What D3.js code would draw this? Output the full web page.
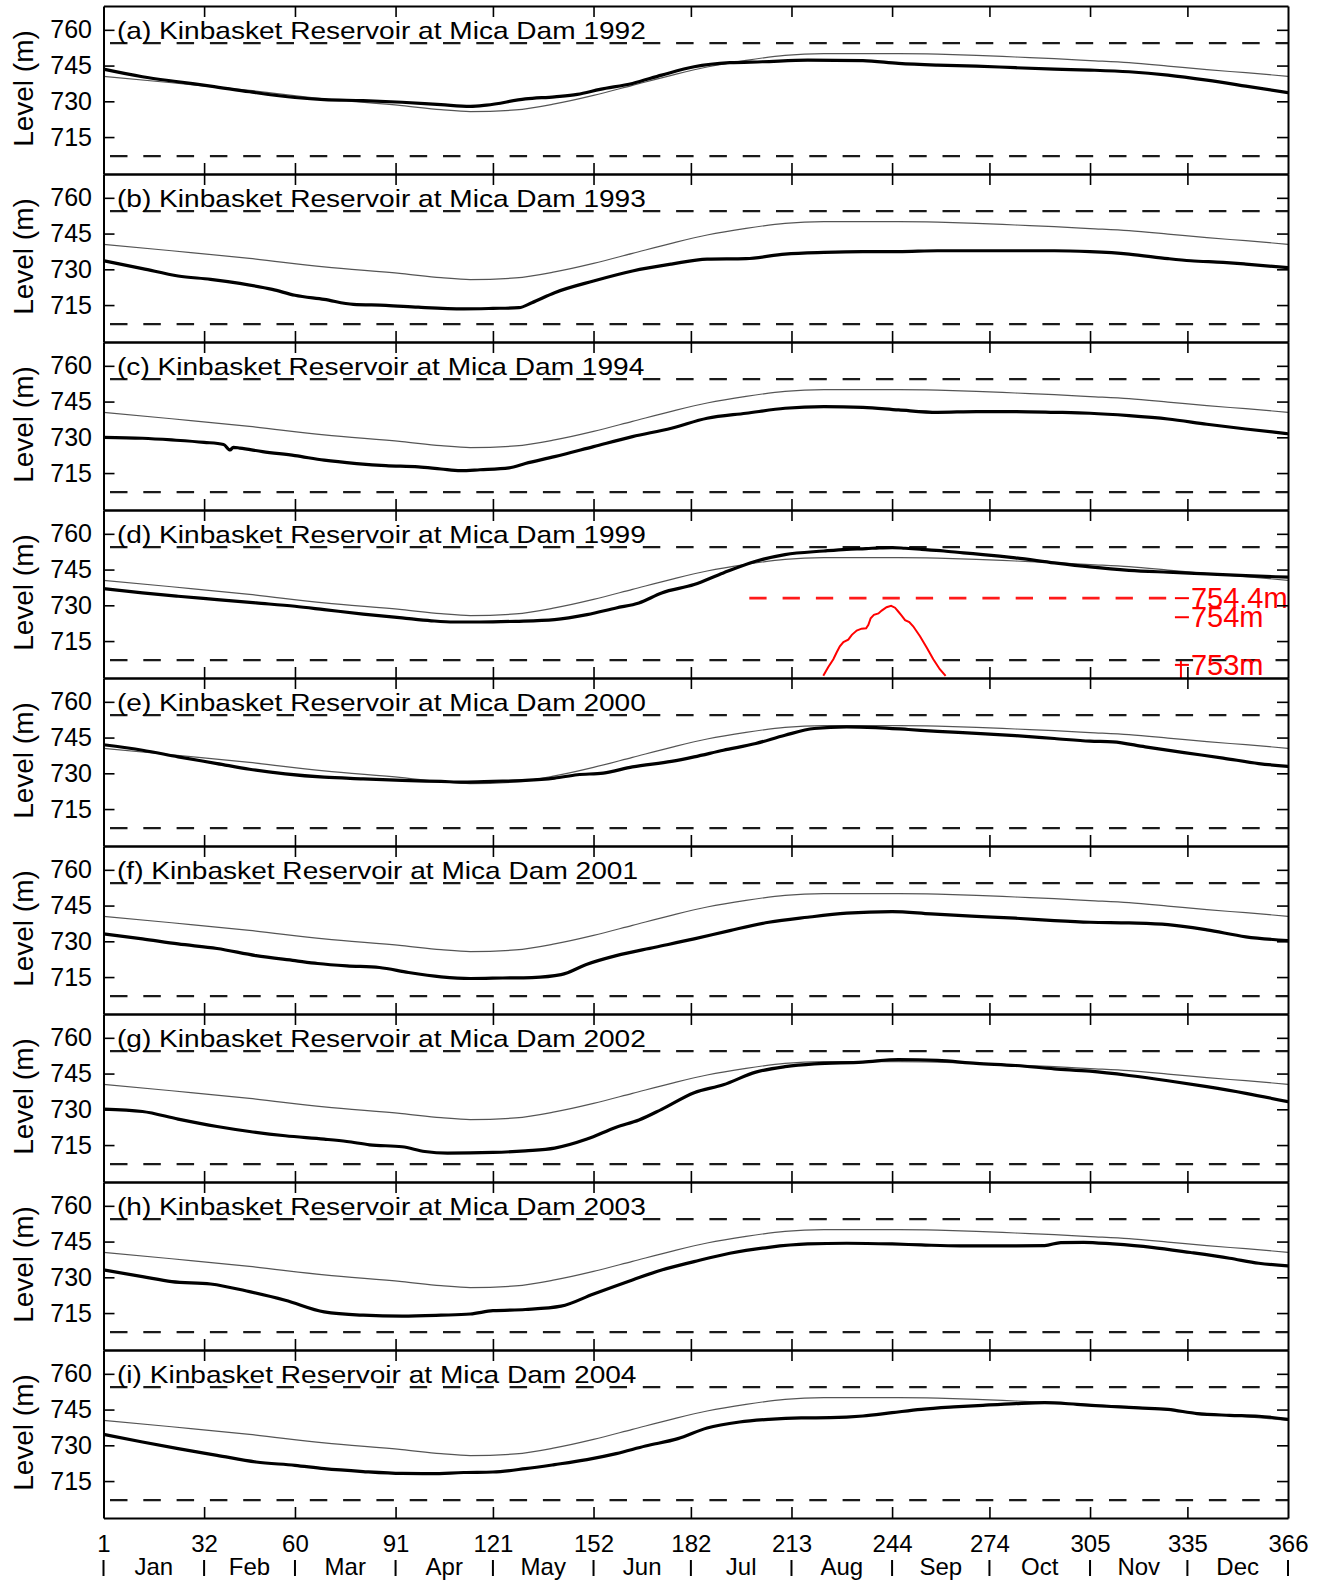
<!DOCTYPE html>
<html>
<head>
<meta charset="utf-8">
<script src="https://cdn.jsdelivr.net/npm/d3@7"></script>
<style>
  html, body { margin: 0; padding: 0; background: #fff; }
  svg { display: block; font-family: "Liberation Sans", Arial, Helvetica, sans-serif; }
</style>
</head>
<body>
<svg id="chart" width="1325" height="1583"></svg>
<script>
// ---- data -------------------------------------------------------------
const panelLetters = ["a", "b", "c", "d", "e", "f", "g", "h", "i"];
const panelYears = [1992, 1993, 1994, 1999, 2000, 2001, 2002, 2003, 2004];
const dayTicks = [1, 32, 60, 91, 121, 152, 182, 213, 244, 274, 305, 335, 366];
const monthNames = ["Jan", "Feb", "Mar", "Apr", "May", "Jun", "Jul", "Aug", "Sep", "Oct", "Nov", "Dec"];
const levelTicks = [715, 730, 745, 760];
const levelDomain = [699.5, 770];
const fullPoolLevel = 754.4;   // normal maximum operating level
const minPoolLevel = 707.0;    // normal minimum operating level

// reference (rule) curve, same for every year: [day of year, level m]
const ruleCurve = [[1,740.5],[22,737.8],[46,734.6],[69,731.0],[93,728.2],[105,726.5],[114,725.7],[128,726.4],[140,728.9],[152,732.5],[164,736.7],[176,740.9],[187,744.4],[199,747.2],[211,749.3],[223,750.0],[235,750.0],[246,750.0],[258,749.8],[270,749.3],[282,748.6],[294,747.9],[305,747.1],[317,746.2],[329,744.8],[341,743.3],[353,742.0],[366,740.5]];

// observed reservoir level: [day of year, level m]
const level1992 = [[1,743.5],[13,740.3],[24,738.2],[34,736.4],[46,734.0],[60,731.6],[69,730.7],[81,730.3],[93,729.6],[105,728.6],[114,727.9],[119,728.4],[131,731.0],[140,731.9],[147,732.9],[154,735.0],[164,737.5],[173,741.0],[183,744.5],[194,746.2],[204,746.6],[218,747.3],[235,747.1],[246,745.9],[258,745.2],[270,744.8],[282,744.1],[294,743.5],[305,743.1],[317,742.4],[329,741.0],[341,738.9],[353,736.4],[366,733.6]];
const level1993 = [[1,733.6],[13,730.3],[24,727.2],[34,725.8],[43,724.1],[53,721.6],[60,719.1],[69,717.4],[78,715.3],[88,714.9],[98,714.1],[112,713.4],[121,713.6],[129,713.9],[133,716.0],[140,720.2],[152,725.1],[164,729.3],[176,732.2],[187,734.3],[199,734.5],[211,736.4],[223,737.1],[235,737.4],[246,737.4],[258,737.8],[270,737.8],[282,737.8],[294,737.8],[305,737.4],[317,736.4],[329,734.5],[336,733.6],[346,732.9],[353,732.2],[366,730.7]];
const level1994 = [[1,730.0],[13,729.6],[22,728.9],[32,727.9],[38,727.0],[40,724.7],[41,725.8],[43,725.5],[50,724.0],[60,722.3],[69,720.4],[79,719.0],[88,718.1],[98,717.6],[105,716.7],[111,716.0],[117,716.4],[126,717.2],[131,719.0],[140,721.9],[152,726.1],[164,730.3],[176,733.8],[187,738.0],[199,740.1],[211,742.2],[223,742.9],[235,742.6],[246,741.5],[258,740.5],[270,740.8],[282,740.8],[294,740.5],[305,740.1],[317,739.1],[329,737.7],[341,735.5],[353,733.5],[366,731.5]];
const level1999 = [[1,737.0],[13,735.2],[24,733.8],[36,732.4],[48,731.0],[60,729.6],[69,728.2],[81,726.3],[93,724.7],[102,723.5],[109,723.0],[117,723.0],[128,723.3],[140,724.0],[150,726.1],[159,728.9],[166,731.0],[173,735.2],[183,738.7],[192,743.6],[202,748.5],[211,751.3],[223,752.8],[230,753.5],[236,753.8],[240,754.1],[244,754.24],[248,753.95],[253,753.5],[260,752.8],[266,752.0],[272,751.3],[282,749.9],[294,747.8],[305,746.1],[317,744.7],[329,743.9],[341,743.2],[353,742.5],[366,741.8]];
const level2000 = [[1,742.0],[13,739.7],[24,736.9],[36,734.1],[46,731.7],[57,729.8],[69,728.4],[81,727.7],[93,727.0],[105,726.6],[112,726.3],[121,726.6],[131,727.0],[140,728.0],[147,729.4],[155,730.1],[164,732.7],[176,735.0],[183,736.9],[192,739.7],[202,742.5],[211,746.0],[220,748.8],[230,749.5],[239,749.2],[249,748.4],[258,747.6],[270,746.8],[282,745.8],[294,744.6],[305,743.5],[312,743.2],[322,741.1],[334,738.7],[346,736.4],[357,734.1],[366,732.9]];
const level2001 = [[1,733.1],[13,731.0],[24,728.9],[36,727.0],[48,724.0],[60,721.9],[67,720.7],[76,719.7],[86,719.0],[95,716.9],[105,715.1],[114,714.4],[124,714.6],[133,714.8],[142,716.0],[150,720.4],[159,724.0],[171,727.5],[183,731.0],[194,734.5],[206,738.0],[218,740.1],[230,741.8],[244,742.5],[256,741.5],[270,740.5],[282,739.7],[294,738.7],[305,738.0],[317,737.7],[329,737.0],[341,734.8],[353,731.9],[366,730.3]];
const level2002 = [[1,730.1],[13,729.1],[24,725.9],[36,722.8],[46,720.7],[57,718.9],[69,717.5],[76,716.5],[83,715.1],[93,714.3],[100,712.3],[107,711.6],[121,711.9],[131,712.6],[140,713.7],[150,717.5],[159,722.5],[166,725.5],[173,730.0],[183,737.0],[192,740.3],[202,745.6],[211,747.9],[220,749.1],[235,749.8],[246,750.9],[258,750.5],[270,749.3],[282,748.4],[294,747.0],[305,746.0],[317,744.2],[329,742.0],[341,739.5],[353,736.7],[366,733.2]];
const level2003 = [[1,733.1],[13,730.3],[22,728.2],[34,727.2],[46,724.0],[57,720.4],[69,715.5],[81,714.1],[93,713.7],[105,714.1],[114,714.6],[121,716.0],[131,716.5],[142,717.9],[152,723.0],[164,728.9],[173,733.1],[183,736.6],[194,740.1],[206,742.6],[218,744.0],[230,744.3],[244,744.0],[253,743.6],[265,743.2],[282,743.2],[291,743.3],[296,744.6],[303,744.7],[312,744.0],[324,742.6],[336,740.4],[348,738.0],[357,735.9],[366,734.8]];
const level2004 = [[1,734.6],[13,731.4],[24,728.6],[36,725.8],[48,723.0],[60,721.6],[69,720.2],[81,719.0],[93,718.2],[102,718.1],[112,718.6],[121,718.8],[131,720.2],[140,721.9],[150,724.0],[159,726.5],[168,729.7],[178,732.8],[187,737.3],[197,739.8],[206,740.9],[216,741.5],[225,741.6],[235,742.3],[244,743.7],[253,745.1],[263,746.1],[272,746.8],[282,747.5],[291,747.9],[301,747.2],[310,746.4],[320,745.7],[329,745.1],[338,743.3],[348,742.6],[357,742.2],[366,740.9]];
const observedLevels = [level1992, level1993, level1994, level1999, level2000, level2001, level2002, level2003, level2004];

// magnified view of the 1999 peak above 753 m: [day of year, level m]
const peak1999 = [[222.8,752.77],[224.3,752.95],[225.9,753.12],[226.9,753.26],[227.9,753.39],[229.0,753.48],[230.5,753.53],[231.6,753.63],[233.1,753.72],[234.6,753.76],[236.0,753.77],[236.7,753.84],[237.4,753.98],[238.4,754.05],[239.8,754.08],[240.8,754.14],[242.3,754.21],[243.7,754.24],[244.9,754.20],[245.9,754.12],[247.0,754.03],[248.0,753.94],[249.3,753.90],[250.5,753.81],[252.6,753.60],[254.7,753.36],[256.7,753.12],[258.7,752.91],[260.5,752.77]];
const peakTicks = [754.4, 754, 753];
const peakLabels = ["754.4m", "754m", "753m"];
const peakRefDays = [200, 331];

// ---- layout -----------------------------------------------------------
const plotLeft = 103.5, plotRight = 1288, firstTop = 6, panelH = 168;
const tickLen = 11;
const font = "'Liberation Sans', Arial, Helvetica, sans-serif";

const svg = d3.select("#chart");
const defs = svg.append("defs");
const x = d3.scaleLinear().domain([1, 366]).range([plotLeft, plotRight]);
const innerDays = dayTicks.slice(1, -1);

const line = (yScale) => d3.line()
  .x(d => x(d[0]))
  .y(d => yScale(d[1]))
  .curve(d3.curveMonotoneX);

function styleAxis(g) {
  g.attr("font-family", null).attr("font-size", null);
  g.selectAll(".tick line").attr("stroke", "#000").attr("stroke-width", 1.6);
  g.select(".domain").attr("stroke", "#000").attr("stroke-width", 2);
  g.selectAll("text").attr("fill", "#000").style("font-family", font);
}

panelYears.forEach((year, i) => {
  const top = firstTop + i * panelH;
  const bottom = top + panelH;
  const y = d3.scaleLinear().domain(levelDomain).range([bottom, top]);
  const g = svg.append("g").attr("class", "panel");

  defs.append("clipPath").attr("id", "clip" + i)
    .append("rect")
    .attr("x", plotLeft).attr("y", top)
    .attr("width", plotRight - plotLeft).attr("height", panelH);

  const plot = g.append("g").attr("clip-path", `url(#clip${i})`);

  // operating limits
  [fullPoolLevel, minPoolLevel].forEach(v => {
    plot.append("line")
      .attr("x1", plotLeft).attr("x2", plotRight)
      .attr("y1", y(v)).attr("y2", y(v))
      .attr("stroke", "#1a1a1a").attr("stroke-width", 2.4)
      .attr("stroke-dasharray", "17.5,15.8")
      .attr("stroke-dashoffset", 26.8);
  });

  // rule curve (thin) and observed level (thick)
  plot.append("path").datum(ruleCurve)
    .attr("d", line(y)).attr("fill", "none")
    .attr("stroke", "#555").attr("stroke-width", 1.2);
  plot.append("path").datum(observedLevels[i])
    .attr("d", line(y)).attr("fill", "none")
    .attr("stroke", "#000").attr("stroke-width", 3.2)
    .attr("stroke-linejoin", "round").attr("stroke-linecap", "round");

  // 1999: magnified peak drawn in red on a stretched level scale
  if (year === 1999) {
    const peakMap = d3.scaleLinear().domain([753, 754.4]).range([705, 733]);
    const yPeak = v => y(peakMap(v));
    plot.append("line")
      .attr("x1", x(peakRefDays[0])).attr("x2", x(peakRefDays[1]))
      .attr("y1", yPeak(peakTicks[0])).attr("y2", yPeak(peakTicks[0]))
      .attr("stroke", "#ff1a1a").attr("stroke-width", 2.6)
      .attr("stroke-dasharray", "17.3,16");
    plot.append("path").datum(peak1999)
      .attr("d", d3.line().x(d => x(d[0])).y(d => yPeak(d[1])))
      .attr("fill", "none").attr("stroke", "#ff0000").attr("stroke-width", 2);
    const tx0 = x(peakRefDays[1]) + 0.5, tx1 = tx0 + 14;
    peakTicks.forEach((v, k) => {
      g.append("line")
        .attr("x1", tx0).attr("x2", tx1)
        .attr("y1", yPeak(v)).attr("y2", yPeak(v))
        .attr("stroke", "#ff0000").attr("stroke-width", 2);
      g.append("text")
        .attr("x", tx1 + 2).attr("y", yPeak(v)).attr("dy", "0.35em")
        .attr("fill", "#ff0000").attr("font-size", 29)
        .style("font-family", font)
        .text(peakLabels[k]);
    });
    g.append("line")
      .attr("x1", tx0 + 6).attr("x2", tx0 + 6)
      .attr("y1", yPeak(753) - 4).attr("y2", bottom)
      .attr("stroke", "#ff0000").attr("stroke-width", 2);
  }

  // axes: inward ticks on all four sides
  const axTop = g.append("g").attr("transform", `translate(0,${top})`)
    .call(d3.axisTop(x).tickValues(innerDays).tickSizeInner(-tickLen).tickSizeOuter(0).tickFormat(""));
  styleAxis(axTop);

  const isLast = i === panelYears.length - 1;
  const axBottom = g.append("g").attr("transform", `translate(0,${bottom})`)
    .call(d3.axisBottom(x)
      .tickValues(isLast ? dayTicks : innerDays)
      .tickSizeInner(-tickLen).tickSizeOuter(0)
      .tickPadding(17)
      .tickFormat(isLast ? d3.format("d") : ""));
  styleAxis(axBottom);
  axBottom.selectAll("text").attr("font-size", 24);
  if (isLast) {
    axBottom.selectAll(".tick").filter(d => d === 1 || d === 366).select("line").remove();
  }

  const axLeft = g.append("g").attr("transform", `translate(${plotLeft},0)`)
    .call(d3.axisLeft(y).tickValues(levelTicks).tickSizeInner(-tickLen).tickSizeOuter(0).tickPadding(11.5));
  styleAxis(axLeft);
  axLeft.selectAll("text").attr("font-size", 25);

  const axRight = g.append("g").attr("transform", `translate(${plotRight},0)`)
    .call(d3.axisRight(y).tickValues(levelTicks).tickSizeInner(-tickLen).tickSizeOuter(0).tickFormat(""));
  styleAxis(axRight);

  // panel title
  g.append("text")
    .attr("transform", `translate(117,${top + 33}) scale(1.17,1)`)
    .attr("font-size", 24).attr("fill", "#000")
    .style("font-family", font)
    .text(`(${panelLetters[i]}) Kinbasket Reservoir at Mica Dam ${year}`);

  // y-axis title
  g.append("text")
    .attr("transform", `translate(33,${top + panelH / 2 - 1.5}) rotate(-90)`)
    .attr("text-anchor", "middle")
    .attr("font-size", 28).attr("fill", "#000")
    .style("font-family", font)
    .text("Level (m)");
});

// month names between the day-of-year ticks
const monthRow = svg.append("g").attr("class", "months");
const monthBaseline = 1575;
dayTicks.forEach(d => {
  monthRow.append("line")
    .attr("x1", x(d)).attr("x2", x(d))
    .attr("y1", monthBaseline - 15).attr("y2", monthBaseline + 1)
    .attr("stroke", "#000").attr("stroke-width", 2);
});
monthNames.forEach((m, k) => {
  monthRow.append("text")
    .attr("x", (x(dayTicks[k]) + x(dayTicks[k + 1])) / 2)
    .attr("y", monthBaseline)
    .attr("text-anchor", "middle")
    .attr("font-size", 24).attr("fill", "#000")
    .style("font-family", font)
    .text(m);
});
</script>
</body>
</html>
